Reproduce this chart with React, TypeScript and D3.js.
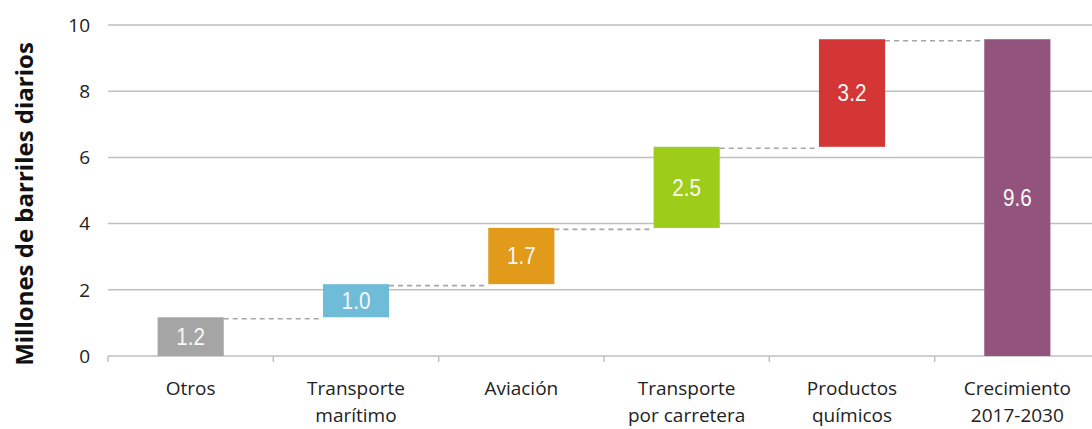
import React from "react";
import * as d3 from "d3";

const categories = [
  "Otros",
  "Transporte marítimo",
  "Aviación",
  "Transporte por carretera",
  "Productos químicos",
  "Crecimiento 2017-2030",
];
const categoryLines = [
  ["Otros"],
  ["Transporte", "marítimo"],
  ["Aviación"],
  ["Transporte", "por carretera"],
  ["Productos", "químicos"],
  ["Crecimiento", "2017-2030"],
];
// increments (last is total)
const increments = [1.17, 1.0, 1.7, 2.45, 3.25];
const valueLabels = ["1.2", "1.0", "1.7", "2.5", "3.2", "9.6"];
const colors = ["#a5a5a5", "#6fbcd9", "#e29a1b", "#9dcc1b", "#d33634", "#92537d"];
const yTicks = [0, 2, 4, 6, 8, 10];

export default function App() {
  const W = 1092;
  const H = 429;
  const x = d3
    .scaleBand<string>()
    .domain(categories)
    .range([108, 1100])
    .paddingInner(0.6)
    .paddingOuter(0.3);
  const y = d3.scaleLinear().domain([0, 10]).range([356, 25]);

  const bars: { start: number; end: number }[] = [];
  let cum = 0;
  increments.forEach((v) => {
    bars.push({ start: cum, end: cum + v });
    cum += v;
  });
  bars.push({ start: 0, end: cum });

  const step = x.step();
  const gap = (step - x.bandwidth()) / 2;
  const boundaries = categories.map((c) => (x(c) as number) - gap);
  boundaries.push((x(categories[categories.length - 1]) as number) + x.bandwidth() + gap);

  const font = "'Open Sans', 'Liberation Sans', sans-serif";

  return (
    <svg width={W} height={H} style={{ position: "absolute", left: 0, top: 0, background: "#fff" }}>
      {yTicks.map((t) => (
        <g key={t}>
          {t > 0 && (
            <line x1={108} x2={W} y1={y(t)} y2={y(t)} stroke="#bfbfbf" strokeWidth={1.5} />
          )}
          <text
            x={90}
            y={y(t)}
            dy="0.36em"
            textAnchor="end"
            fontFamily={font}
            fontSize={19}
            fill="#222"
          >
            {t}
          </text>
        </g>
      ))}
      <line x1={108} x2={W} y1={y(0)} y2={y(0)} stroke="#bfbfbf" strokeWidth={1.5} />
      {boundaries.map((b, i) => (
        <line key={i} x1={b} x2={b} y1={y(0)} y2={y(0) + 6} stroke="#bfbfbf" strokeWidth={1.5} />
      ))}
      {bars.slice(0, bars.length - 1).map((b, i) => {
        const x1 = (x(categories[i]) as number) + x.bandwidth();
        const x2 = x(categories[i + 1]) as number;
        return (
          <line
            key={"d" + i}
            x1={x1}
            x2={x2}
            y1={y(b.end) + 1.5}
            y2={y(b.end) + 1.5}
            stroke="#a6a6a6"
            strokeWidth={1.6}
            strokeDasharray="5,4"
          />
        );
      })}
      {bars.map((b, i) => {
        const bx = x(categories[i]) as number;
        const top = y(b.end);
        const bottom = y(b.start);
        const cx = bx + x.bandwidth() / 2;
        const cy = (top + bottom) / 2;
        return (
          <g key={"b" + i}>
            <rect x={bx} y={top} width={x.bandwidth()} height={bottom - top} fill={colors[i]} />
            <text
              transform={`translate(${cx}, ${cy}) scale(0.9, 1)`}
              dy="0.36em"
              textAnchor="middle"
              fontFamily="'Liberation Sans', Arial, sans-serif"
              fontSize={23}
              fill="#f8f8f8"
            >
              {valueLabels[i]}
            </text>
          </g>
        );
      })}
      {categories.map((c, i) => {
        const cx = (x(c) as number) + x.bandwidth() / 2;
        return (
          <text
            key={"c" + i}
            x={cx}
            y={395}
            textAnchor="middle"
            fontFamily={font}
            fontSize={19}
            fill="#222"
          >
            {categoryLines[i].map((l, j) => (
              <tspan key={j} x={cx} dy={j === 0 ? 0 : 26.5}>
                {l}
              </tspan>
            ))}
          </text>
        );
      })}
      <text
        transform={`translate(33, ${204}) rotate(-90)`}
        textAnchor="middle"
        fontFamily={font}
        fontWeight="bold"
        fontSize={24}
        fill="#111"
      >
        Millones de barriles diarios
      </text>
    </svg>
  );
}
